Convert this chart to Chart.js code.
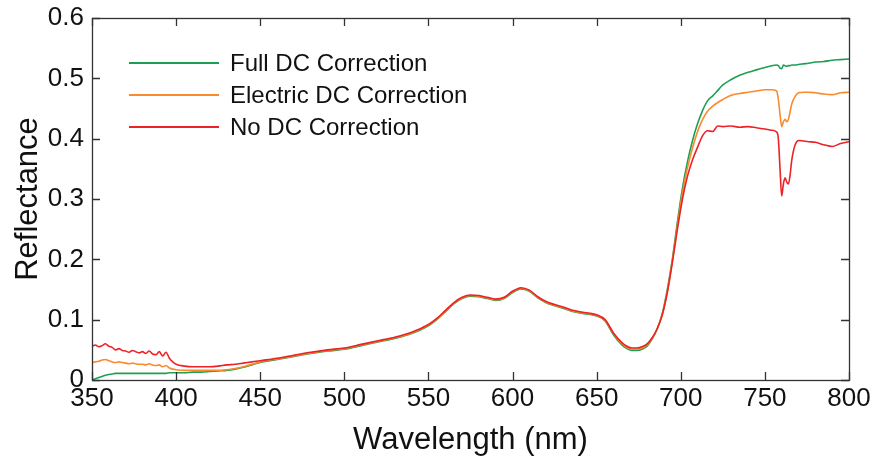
<!DOCTYPE html>
<html>
<head>
<meta charset="utf-8">
<script src="https://cdn.jsdelivr.net/npm/chart.js@4.4.1/dist/chart.umd.min.js"></script>
<style>
  html, body { margin: 0; padding: 0; background: #fff; }
  #wrap { position: relative; width: 877px; height: 461px; }
  #legend { position: absolute; left: 129px; top: 47px; font-family: "Liberation Sans", Arial, sans-serif; font-size: 24px; color: #111; }
  #legend .row { height: 32px; display: flex; align-items: center; }
  #legend .swatch { width: 90px; height: 2px; margin-right: 11px; }
</style>
</head>
<body>
<div id="wrap">
  <canvas id="chart" width="877" height="461"></canvas>
  <div id="legend"></div>
</div>
<script>
// wavelength (nm)
var wavelength = [
  350, 352, 354, 356, 358, 360, 362, 364, 366, 368,
  370, 372, 374, 376, 378, 380, 382, 384, 386, 388,
  390, 392, 394, 396, 398, 400, 405, 410, 415, 420,
  425, 430, 435, 440, 445, 450, 460, 470, 480, 490,
  500, 510, 520, 530, 540, 550, 555, 560, 565, 570,
  575, 580, 585, 590, 595, 600, 605, 610, 615, 620,
  625, 630, 635, 640, 645, 650, 655, 660, 665, 668,
  671, 674, 677, 680, 683, 686, 689, 692, 695, 698,
  701, 704, 707, 710, 713, 716, 719, 722, 725, 730,
  735, 740, 745, 750, 754, 757, 758, 759, 760, 761,
  762, 763, 764, 765, 766, 768, 770, 773, 776, 780,
  785, 790, 795, 800
];

var fullDc = [
  0.000, 0.002, 0.004, 0.006, 0.008, 0.009, 0.010, 0.011, 0.011, 0.011,
  0.011, 0.011, 0.011, 0.011, 0.011, 0.011, 0.011, 0.011, 0.011, 0.011,
  0.011, 0.011, 0.011, 0.012, 0.012, 0.012, 0.012, 0.013, 0.013, 0.014,
  0.015, 0.016, 0.018, 0.021, 0.025, 0.029, 0.034, 0.039, 0.044, 0.048,
  0.051, 0.057, 0.063, 0.069, 0.077, 0.090, 0.100, 0.113, 0.126, 0.135,
  0.139, 0.138, 0.135, 0.132, 0.135, 0.145, 0.151, 0.147, 0.136, 0.128,
  0.123, 0.119, 0.114, 0.111, 0.109, 0.106, 0.098, 0.075, 0.058, 0.052,
  0.049, 0.049, 0.051, 0.056, 0.068, 0.085, 0.110, 0.150, 0.200, 0.262,
  0.318, 0.362, 0.397, 0.425, 0.447, 0.463, 0.471, 0.480, 0.489, 0.498,
  0.505, 0.510, 0.514, 0.518, 0.521, 0.522, 0.521, 0.517, 0.516, 0.522,
  0.521, 0.520, 0.521, 0.521, 0.522, 0.522, 0.523, 0.524, 0.525, 0.527,
  0.528, 0.530, 0.531, 0.532
];

var electricDc = [
  0.029, 0.030, 0.031, 0.033, 0.034, 0.032, 0.030, 0.029, 0.030, 0.029,
  0.028, 0.027, 0.028, 0.027, 0.026, 0.026, 0.025, 0.027, 0.025, 0.024,
  0.025, 0.022, 0.024, 0.020, 0.018, 0.017, 0.016, 0.016, 0.016, 0.016,
  0.016, 0.017, 0.019, 0.022, 0.026, 0.030, 0.035, 0.040, 0.045, 0.049,
  0.052, 0.058, 0.064, 0.070, 0.078, 0.091, 0.101, 0.114, 0.127, 0.136,
  0.140, 0.139, 0.136, 0.133, 0.136, 0.146, 0.152, 0.148, 0.137, 0.129,
  0.124, 0.120, 0.115, 0.112, 0.110, 0.107, 0.099, 0.077, 0.060, 0.054,
  0.051, 0.051, 0.053, 0.058, 0.069, 0.085, 0.109, 0.147, 0.198, 0.256,
  0.310, 0.352, 0.385, 0.412, 0.432, 0.446, 0.454, 0.460, 0.465, 0.472,
  0.475, 0.477, 0.479, 0.481, 0.481, 0.479, 0.465, 0.440, 0.420, 0.428,
  0.432, 0.428, 0.432, 0.445, 0.458, 0.470, 0.476, 0.477, 0.477, 0.476,
  0.474, 0.473, 0.476, 0.477
];

var noDc = [
  0.056, 0.058, 0.055, 0.057, 0.060, 0.056, 0.054, 0.050, 0.052, 0.049,
  0.048, 0.046, 0.049, 0.047, 0.045, 0.047, 0.044, 0.048, 0.043, 0.042,
  0.047, 0.040, 0.046, 0.036, 0.030, 0.026, 0.023, 0.022, 0.022, 0.022,
  0.023, 0.025, 0.026, 0.028, 0.030, 0.032, 0.036, 0.041, 0.046, 0.050,
  0.053, 0.059, 0.065, 0.071, 0.079, 0.092, 0.102, 0.115, 0.128, 0.137,
  0.141, 0.140, 0.137, 0.134, 0.137, 0.147, 0.153, 0.149, 0.138, 0.130,
  0.125, 0.121, 0.116, 0.113, 0.111, 0.108, 0.100, 0.078, 0.062, 0.056,
  0.053, 0.053, 0.055, 0.060, 0.070, 0.085, 0.108, 0.145, 0.195, 0.250,
  0.300, 0.338, 0.365, 0.386, 0.405, 0.413, 0.412, 0.421, 0.420, 0.421,
  0.419, 0.420, 0.418, 0.416, 0.414, 0.411, 0.400, 0.350, 0.305, 0.325,
  0.335, 0.328, 0.325, 0.340, 0.365, 0.390, 0.397, 0.396, 0.395, 0.394,
  0.390, 0.387, 0.392, 0.395
];

var seriesLabels = ['Full DC Correction', 'Electric DC Correction', 'No DC Correction'];
var seriesColors = ['#1e9e55', '#fb8a2c', '#ec2227'];
var xTicks = [350, 400, 450, 500, 550, 600, 650, 700, 750, 800];
var yTicks = [0, 0.1, 0.2, 0.3, 0.4, 0.5, 0.6];

function toPoints(values) {
  var pts = [];
  for (var i = 0; i < values.length; i++) {
    pts.push({x: wavelength[i], y: values[i]});
  }
  return pts;
}

var seriesValues = [fullDc, electricDc, noDc];
var datasets = [];
for (var i = 0; i < seriesValues.length; i++) {
  datasets.push({
    label: seriesLabels[i],
    data: toPoints(seriesValues[i]),
    borderColor: seriesColors[i],
    borderWidth: 1.6,
    pointRadius: 0,
    cubicInterpolationMode: 'monotone',
    order: seriesValues.length - i // red on top
  });
}

// matlab style box with inward ticks
var boxPlugin = {
  id: 'box',
  afterDatasetsDraw: function (chart) {
    var ctx = chart.ctx, a = chart.chartArea;
    var xs = chart.scales.x, ys = chart.scales.y;
    var len = 8;
    ctx.save();
    ctx.strokeStyle = '#333';
    ctx.lineWidth = 1.3;
    ctx.beginPath();
    xTicks.forEach(function (v) {
      var px = Math.round(xs.getPixelForValue(v)) + 0.5;
      ctx.moveTo(px, a.bottom); ctx.lineTo(px, a.bottom - len);
      ctx.moveTo(px, a.top); ctx.lineTo(px, a.top + len);
    });
    yTicks.forEach(function (v) {
      var py = Math.round(ys.getPixelForValue(v)) + 0.5;
      ctx.moveTo(a.left, py); ctx.lineTo(a.left + len, py);
      ctx.moveTo(a.right, py); ctx.lineTo(a.right - len, py);
    });
    ctx.stroke();
    ctx.strokeRect(a.left + 0.5, a.top + 0.5, a.right - a.left, a.bottom - a.top);
    ctx.restore();
  }
};

var font = '"Liberation Sans", Arial, sans-serif';

new Chart(document.getElementById('chart'), {
  type: 'line',
  data: {datasets: datasets},
  options: {
    responsive: false,
    animation: false,
    layout: {padding: {top: 18, right: 28, left: 0, bottom: 0}},
    plugins: {legend: {display: false}, tooltip: {enabled: false}},
    scales: {
      x: {
        type: 'linear',
        min: 350,
        max: 800,
        afterBuildTicks: function (scale) {
          scale.ticks = xTicks.map(function (v) { return {value: v}; });
        },
        afterFit: function (scale) {
          scale.height = 81;
          scale.paddingLeft = 0;
          scale.paddingRight = 0;
        },
        grid: {display: false, drawTicks: false},
        border: {display: false},
        ticks: {color: '#111', font: {family: font, size: 26}, padding: 3, maxRotation: 0},
        title: {display: true, text: 'Wavelength (nm)', color: '#111', font: {family: font, size: 31}, padding: {top: 0, bottom: 2}}
      },
      y: {
        min: 0,
        max: 0.6,
        afterBuildTicks: function (scale) {
          scale.ticks = yTicks.map(function (v) { return {value: v}; });
        },
        afterFit: function (scale) {
          scale.width = 92;
          scale.paddingTop = 0;
          scale.paddingBottom = 0;
        },
        grid: {display: false, drawTicks: false},
        border: {display: false},
        ticks: {color: '#111', font: {family: font, size: 26}, padding: 8,
          callback: function (v) { return String(Math.round(v * 10) / 10); }},
        title: {display: true, text: 'Reflectance', color: '#111', font: {family: font, size: 31}, padding: {top: 10, bottom: 0}}
      }
    }
  },
  plugins: [boxPlugin]
});

// legend
var legend = document.getElementById('legend');
for (var j = 0; j < seriesLabels.length; j++) {
  var row = document.createElement('div');
  row.className = 'row';
  row.innerHTML = '<span class="swatch" style="background:' + seriesColors[j] + '"></span>' + seriesLabels[j];
  legend.appendChild(row);
}
</script>
</body>
</html>
